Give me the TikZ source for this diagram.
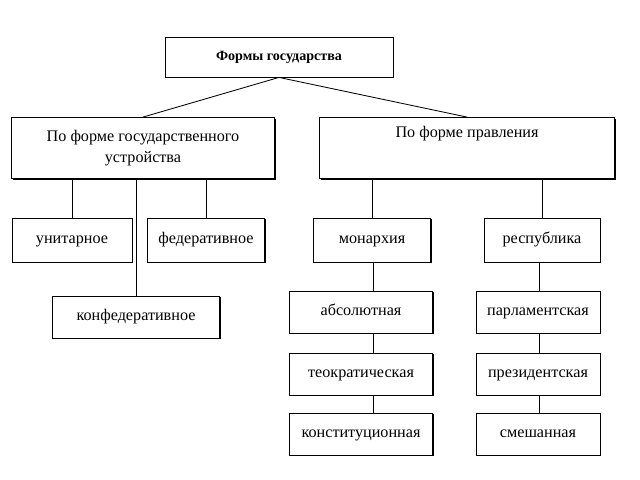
\documentclass[tikz,border=0pt]{standalone}
\usepackage{fontspec}
\setmainfont{Liberation Serif}
\usetikzlibrary{shadows}

\begin{document}
\begin{tikzpicture}[x=0.025cm, y=-0.025cm,
    every node/.style={font=\fontsize{11.5}{15}\selectfont, inner sep=2pt, align=center},
    box/.style={draw, fill=white,
                drop shadow={shadow xshift=1pt, shadow yshift=-1pt, fill=black, opacity=1}},
    oneline/.style={box, text height=1.5ex, text depth=.4ex},
    line width=0.6pt]
            \useasboundingbox (0,0) rectangle (640,480);

            \node[oneline, minimum width=228*0.025cm, minimum height=40*0.025cm, font=\bfseries\fontsize{10}{12}\selectfont] (forms) at (279,57) {Формы государства};
            \node[box, minimum width=263*0.025cm, minimum height=61*0.025cm] (device) at (143,148) {По форме государственного\\устройства};
            \node[oneline, minimum width=295*0.025cm, minimum height=61*0.025cm] (rule) at (467,148) {};
            \node[text height=1.5ex, text depth=.4ex] (ruletext) at (467,134) {По форме правления};

            \node[oneline, minimum width=120*0.025cm, minimum height=44*0.025cm] (unit) at (72,240) {унитарное};
            \node[oneline, minimum width=117*0.025cm, minimum height=44*0.025cm] (fed) at (206,240) {федеративное};
            \node[oneline, minimum width=167*0.025cm, minimum height=42*0.025cm] (conf) at (136,317) {конфедеративное};

            \node[oneline, minimum width=117*0.025cm, minimum height=44*0.025cm] (mon) at (372,240) {монархия};
            \node[oneline, minimum width=116*0.025cm, minimum height=44*0.025cm] (rep) at (542,240) {республика};

            \node[oneline, minimum width=143*0.025cm, minimum height=42*0.025cm] (abs) at (361,312) {абсолютная};
            \node[oneline, minimum width=143*0.025cm, minimum height=42*0.025cm] (theo) at (361,374) {теократическая};
            \node[oneline, minimum width=143*0.025cm, minimum height=42*0.025cm] (const) at (361,434) {конституционная};

            \node[oneline, minimum width=124*0.025cm, minimum height=42*0.025cm] (parl) at (538,312) {парламентская};
            \node[oneline, minimum width=124*0.025cm, minimum height=42*0.025cm] (pres) at (538,374) {президентская};
            \node[oneline, minimum width=124*0.025cm, minimum height=42*0.025cm] (mix) at (538,434) {смешанная};

            \draw (forms.south) -- (device.north);
            \draw (forms.south) -- (rule.north);

            \foreach \i in {unit, fed, conf} {
                    \draw (\i.north) -- (\i.north |- device.south);
                }
            \foreach \i in {mon, rep} {
                    \draw (\i.north) -- (\i.north |- rule.south);
                }
            \foreach \i/\j in {mon/abs, abs/theo, theo/const} {
                    \draw ([xshift=1]mon.south |- \i.south) -- ([xshift=1]mon.south |- \j.north);
                }
            \foreach \i/\j in {rep/parl, parl/pres, pres/mix} {
                    \draw ([xshift=-2]rep.south |- \i.south) -- ([xshift=-2]rep.south |- \j.north);
                }
        \end{tikzpicture}
\end{document}
